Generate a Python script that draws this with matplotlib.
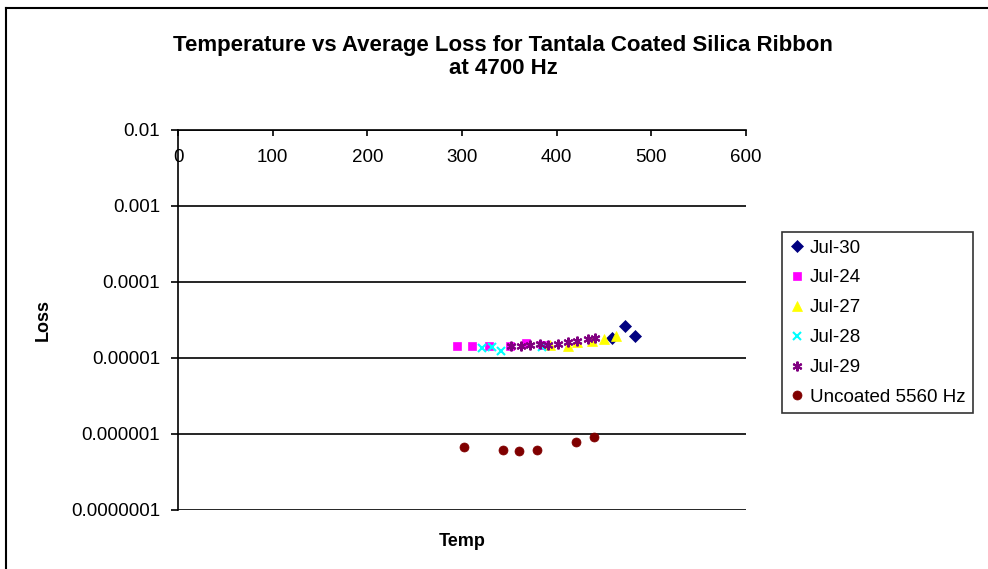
import matplotlib
matplotlib.use('Agg')
import numpy as np
import matplotlib.pyplot as plt
from matplotlib.lines import Line2D

# values
temp_jul30 = [458, 472, 483]
loss_jul30 = [1.83e-5, 2.63e-5, 1.95e-5]

temp_jul24 = [295, 311, 329, 351, 368, 385]
loss_jul24 = [1.44e-5, 1.44e-5, 1.44e-5, 1.44e-5, 1.57e-5, 1.50e-5]

temp_jul27 = [393, 412, 422, 437, 450, 463]
loss_jul27 = [1.48e-5, 1.44e-5, 1.62e-5, 1.67e-5, 1.78e-5, 1.95e-5]

temp_jul28 = [321, 332, 341, 384]
loss_jul28 = [1.35e-5, 1.38e-5, 1.24e-5, 1.40e-5]

temp_jul29 = [352, 362, 372, 382, 391, 401, 412, 422, 433, 441]
loss_jul29 = [1.44e-5, 1.44e-5, 1.48e-5, 1.52e-5, 1.48e-5, 1.52e-5,
              1.62e-5, 1.67e-5, 1.78e-5, 1.83e-5]

temp_uncoated = [302, 343, 360, 379, 420, 439]
loss_uncoated = [6.7e-7, 6.2e-7, 6.0e-7, 6.2e-7, 7.9e-7, 9.1e-7]

x_ticks = [0, 100, 200, 300, 400, 500, 600]
y_ticks = [1e-7, 1e-6, 1e-5, 1e-4, 1e-3, 1e-2]
y_tick_labels = ['0.0000001', '0.000001', '0.00001', '0.0001', '0.001', '0.01']

plt.rcParams['font.family'] = ['Liberation Sans', 'DejaVu Sans']

fig = plt.figure(figsize=(9.88, 5.69), dpi=100)
ax = fig.add_axes([178 / 988., 1 - 510 / 569., (746 - 178) / 988., (510 - 130) / 569.])

series = [
    (temp_jul30, loss_jul30, 'D', '#000080', 'Jul-30', 6),
    (temp_jul24, loss_jul24, 's', '#ff00ff', 'Jul-24', 6),
    (temp_jul27, loss_jul27, '^', '#ffff00', 'Jul-27', 7),
    (temp_jul28, loss_jul28, 'x', '#00ffff', 'Jul-28', 6),
    (temp_jul29, loss_jul29, (6, 2, 0), '#800080', 'Jul-29', 7),
    (temp_uncoated, loss_uncoated, 'o', '#800000', 'Uncoated 5560 Hz', 6.5),
]
for i, (x, y, m, c, lab, ms) in enumerate(series):
    ax.plot(x, y, linestyle='none', marker=m, color=c, markersize=ms,
            markeredgewidth=1.5 if m in ('x', (6, 2, 0)) else 0.5,
            label=lab, zorder=3 + i)

ax.set_yscale('log')
ax.set_xlim(0, 600)
ax.set_ylim(1e-7, 1e-2)
ax.set_yticks(y_ticks)
ax.set_yticklabels(y_tick_labels)
ax.yaxis.set_minor_locator(matplotlib.ticker.NullLocator())
ax.set_xticks(x_ticks)
ax.set_xticklabels([str(t) for t in x_ticks])

ax.spines['top'].set_visible(False)
ax.spines['right'].set_visible(False)
ax.spines['bottom'].set_position(('data', 1e-2))
ax.spines['left'].set_linewidth(1.2)
ax.spines['bottom'].set_linewidth(1.2)

ax.grid(axis='y', color='black', linewidth=1.2)
ax.tick_params(axis='y', direction='out', length=5, width=1.2, pad=8, labelsize=13.5)
ax.tick_params(axis='x', direction='out', length=4, width=1.2, pad=10, labelsize=13.5)

fig.text(43 / 988., 1 - 320 / 569., 'Loss', rotation=90, ha='center', va='center',
         fontsize=13, fontweight='bold')
fig.text(462 / 988., 1 - 542 / 569., 'Temp', ha='center', va='center',
         fontsize=13, fontweight='bold')

fig.text(503 / 988., 1 - 57 / 569.,
         'Temperature vs Average Loss for Tantala Coated Silica Ribbon\nat 4700 Hz',
         ha='center', va='center', fontsize=16, fontweight='bold', linespacing=1.15)

leg = ax.legend(loc='upper left', bbox_to_anchor=(782 / 988., 1 - 232 / 569.),
                bbox_transform=fig.transFigure, frameon=True, fancybox=False,
                edgecolor='black', fontsize=13.5, handlelength=0.8, handletextpad=0.3,
                labelspacing=0.68, borderpad=0.4, borderaxespad=0)
leg.get_frame().set_linewidth(1.2)

# outer chart border
fig.add_artist(Line2D([6 / 988., 6 / 988.], [0, 1 - 8 / 569.], color='black', linewidth=1.5,
                      transform=fig.transFigure))
fig.add_artist(Line2D([6 / 988., 1], [1 - 8 / 569., 1 - 8 / 569.], color='black', linewidth=1.5,
                      transform=fig.transFigure))

fig.savefig('out.png', dpi=100)
